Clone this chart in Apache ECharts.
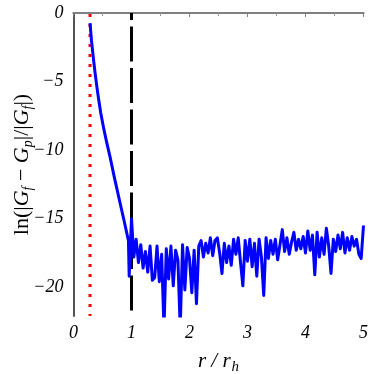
<!DOCTYPE html>
<html>
<head>
<meta charset="utf-8">
<script src="https://cdn.jsdelivr.net/npm/echarts@6/dist/echarts.min.js"></script>
<style>
  html, body { margin: 0; padding: 0; background: #fff; }
  #chart { width: 374px; height: 374px; }
</style>
</head>
<body>
<div id="chart"></div>
<script>
// axis ranges
const X_MIN = 0, X_MAX = 5;
const Y_MIN = -22.1, Y_MAX = 0;

// reference lines (r / r_h)
const redLineX = 0.285;
const blackLineX = 1;

// smooth decay part: [r/rh, ln value]
const decayPoints = [
  [0.285, -0.73], [0.31, -2.0], [0.34, -3.2], [0.37, -4.3], [0.40, -5.3],
  [0.43, -6.2], [0.47, -7.3], [0.52, -8.4], [0.57, -9.4], [0.63, -10.5],
  [0.71, -12.1], [0.8, -13.8], [0.88, -15.3], [0.947, -16.6]
];

// noisy part, sampled every 0.04 starting at 0.96
const noiseStart = 0.96;
const noiseStep = 0.04;
const noiseValues = [
  -19.2, -15.0, -17.8, -16.5, -18.2, -16.9, -18.6, -17.4, -18.9, -17.0,
  -19.5, -19.3, -17.0, -19.6, -17.6, -23.0, -17.2, -19.4, -17.0, -19.9,
  -17.3, -18.0, -23.0, -16.9, -20.2, -17.1, -17.9, -20.4, -17.3, -21.2,
  -17.0, -16.6, -17.8, -16.8, -17.5, -16.4, -17.7, -16.6, -16.4, -17.5,
  -19.0, -16.8, -18.2, -17.0, -18.4, -16.5, -17.6, -16.4, -18.2, -19.9,
  -16.6, -18.1, -16.5, -18.5, -16.8, -19.2, -16.5, -17.8, -20.6, -16.4,
  -17.9, -16.6, -17.6, -16.5, -18.0, -16.9, -15.8, -17.4, -16.4, -17.6,
  -16.7, -16.0, -17.3, -16.5, -17.2, -16.3, -17.5, -15.9, -17.3, -16.2,
  -19.1, -16.0, -17.8, -16.4, -17.6, -15.7, -17.0, -19.0, -16.5, -17.4,
  -16.2, -17.2, -16.0, -17.5, -16.4, -17.3, -16.3, -17.0, -16.5, -17.6,
  -17.9, -15.5
];

const curve = decayPoints.concat(
  noiseValues.map((v, i) => [+(noiseStart + i * noiseStep).toFixed(3), v])
);

const serif = 'Liberation Serif';
const minus = v => String(v).replace('-', '\u2212');

const chart = echarts.init(document.getElementById('chart'), null, { renderer: 'canvas' });
chart.setOption({
  animation: false,
  backgroundColor: '#fff',
  grid: { left: 73.5, right: 10.5, top: 13, bottom: 58, outerBoundsMode: 'none', containLabel: false },
  xAxis: [
    {
      type: 'value', min: X_MIN, max: X_MAX, interval: 1,
      axisLine: { show: true, lineStyle: { color: '#808080', width: 2 } },
      axisTick: { show: true, inside: false, length: 4, lineStyle: { color: '#808080' } },
      minorTick: { show: true, splitNumber: 2, length: 3, lineStyle: { color: '#999' } },
      splitLine: { show: false },
      axisLabel: { color: '#000', fontFamily: serif, fontStyle: 'italic', fontSize: 18, margin: 8 },
      name: '{i|r / r}{s|h}',
      nameLocation: 'middle',
      nameGap: 32,
      nameMoveOverlap: false,
      nameTextStyle: {
        rich: {
          i: { fontFamily: serif, fontStyle: 'italic', fontSize: 21, color: '#000' },
          s: { fontFamily: serif, fontStyle: 'italic', fontSize: 15, color: '#000', padding: [12, 0, 0, 1] }
        }
      }
    },
    {
      type: 'value', position: 'top', min: X_MIN, max: X_MAX,
      axisLine: { show: true, lineStyle: { color: '#808080', width: 2 } },
      axisTick: { show: false }, axisLabel: { show: false }, splitLine: { show: false }
    }
  ],
  yAxis: [
    {
      type: 'value', min: Y_MIN, max: Y_MAX, splitNumber: 5,
      axisLine: { show: true, lineStyle: { color: '#808080', width: 2 } },
      axisTick: { show: false },
      splitLine: { show: false },
      axisLabel: {
        color: '#000', fontFamily: serif, fontStyle: 'italic', fontSize: 18, margin: 10,
        formatter: v => (Math.abs(v % 5) < 1e-6 ? minus(v) : '')
      },
      name: '{n|ln(|}{g|G}{s|f}{n| \u2212 }{g|G}{s|p}{n||/|}{g|G}{s|f}{n||)}',
      nameLocation: 'middle',
      nameRotate: 90,
      nameGap: 38,
      nameMoveOverlap: false,
      nameTextStyle: {
        rich: {
          n: { fontFamily: serif, fontSize: 22, color: '#000' },
          g: { fontFamily: serif, fontStyle: 'italic', fontSize: 22, color: '#000' },
          s: { fontFamily: serif, fontStyle: 'italic', fontSize: 14, color: '#000', padding: [12, 0, 0, 0] }
        }
      }
    },
    {
      type: 'value', position: 'right', min: Y_MIN, max: Y_MAX,
      axisLine: { show: true, lineStyle: { color: '#444', width: 1.5 } },
      axisTick: { show: false }, axisLabel: { show: false }, splitLine: { show: false }
    }
  ],
  series: [
    {
      type: 'line',
      data: [[redLineX, Y_MAX], [redLineX, Y_MIN]],
      symbol: 'none',
      lineStyle: { color: '#ff0000', width: 3, type: [3, 7], cap: 'butt', dashOffset: -1 },
      z: 2
    },
    {
      type: 'line',
      data: [[blackLineX, Y_MAX], [blackLineX, Y_MIN]],
      symbol: 'none',
      lineStyle: { color: '#000', width: 3, type: [35, 6.5], cap: 'butt', dashOffset: 28 },
      z: 2
    },
    {
      type: 'line',
      data: curve,
      symbol: 'none',
      clip: true,
      lineStyle: { color: '#0000ff', width: 3, join: 'round' },
      z: 3
    }
  ]
});
</script>
</body>
</html>
